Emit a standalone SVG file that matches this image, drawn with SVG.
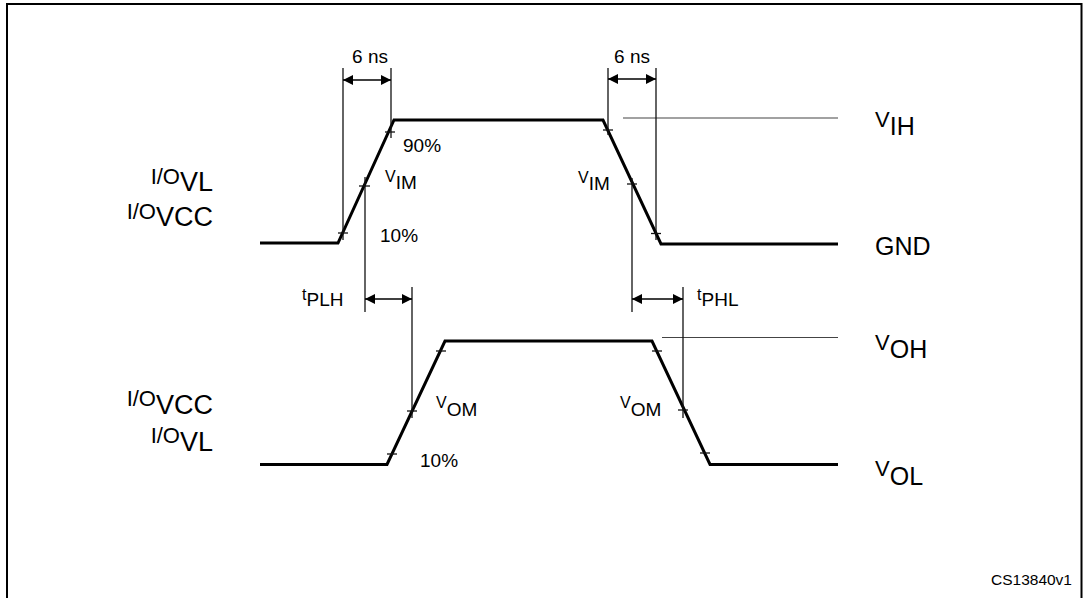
<svg xmlns="http://www.w3.org/2000/svg" width="1083" height="598" viewBox="0 0 1083 598">
<style>
text{font-family:"Liberation Sans",Arial,Helvetica,sans-serif;fill:#000}
.wave{fill:none;stroke:#000;stroke-width:3;stroke-linejoin:miter}
.thin{fill:none;stroke:#111;stroke-width:1.3}
.ref{fill:none;stroke:#444;stroke-width:1.2}
.dim{fill:none;stroke:#000;stroke-width:1.4;marker-start:url(#ah);marker-end:url(#ah)}
.t19{font-size:19px}
.sm{font-size:16px}
.sub{font-size:19px}
.big{font-size:25px}
.bigv{font-size:22px}
.lio{font-size:22px}
.lsub{font-size:27px}
</style>
<defs>
<marker id="ah" viewBox="0 0 10 10" refX="10" refY="5" markerWidth="10" markerHeight="10" markerUnits="userSpaceOnUse" orient="auto-start-reverse">
<path d="M0,0 L10,5 L0,10 z" fill="#000"/>
</marker>
</defs>
<rect x="7" y="4" width="1074.5" height="610" fill="none" stroke="#000" stroke-width="2"/>

<g id="input-wave">
<polyline class="wave" points="260,243 338,243 394,120 603,120 661,244 838,244"/>
<line class="ref" x1="623" y1="118" x2="838" y2="118"/>
</g>
<g id="output-wave">
<polyline class="wave" points="260,464.5 387,464.5 445,341 652,341 710,464.5 838,464.5"/>
<line class="ref" x1="662" y1="337.5" x2="838" y2="337.5"/>
</g>

<g id="connectors">
<line class="thin" x1="343" y1="68" x2="343" y2="240"/>
<line class="thin" x1="338" y1="233" x2="348" y2="233"/>
<line class="thin" x1="391" y1="68" x2="391" y2="138"/>
<line class="thin" x1="385" y1="132" x2="395" y2="132"/>
<line class="thin" x1="365" y1="177" x2="365" y2="312"/>
<line class="thin" x1="359" y1="186" x2="370" y2="186"/>
<line class="dim" x1="343" y1="80" x2="391" y2="80"/>
<line class="thin" x1="608" y1="68" x2="608" y2="135"/>
<line class="thin" x1="603" y1="130" x2="613" y2="130"/>
<line class="thin" x1="656" y1="68" x2="656" y2="240"/>
<line class="thin" x1="651" y1="233.5" x2="661" y2="233.5"/>
<line class="thin" x1="632" y1="178" x2="632" y2="312"/>
<line class="thin" x1="627" y1="184" x2="637" y2="184"/>
<line class="dim" x1="608" y1="79" x2="656" y2="79"/>
<line class="thin" x1="387" y1="454" x2="397" y2="454"/>
<line class="thin" x1="436" y1="351" x2="446" y2="351"/>
<line class="thin" x1="412" y1="287" x2="412" y2="418"/>
<line class="thin" x1="407" y1="411" x2="417" y2="411"/>
<line class="dim" x1="365" y1="299" x2="412" y2="299"/>
<line class="thin" x1="652" y1="351" x2="662" y2="351"/>
<line class="thin" x1="700" y1="453" x2="710" y2="453"/>
<line class="thin" x1="683" y1="287" x2="683" y2="418"/>
<line class="thin" x1="678" y1="410" x2="688" y2="410"/>
<line class="dim" x1="632" y1="299" x2="683" y2="299"/>
</g>

<g id="labels-input">
<text class="t19" x="370" y="63" text-anchor="middle">6 ns</text>
<text class="t19" x="632" y="63" text-anchor="middle">6 ns</text>
<text class="t19" x="403" y="152">90%</text>
<text class="t19" x="380" y="242">10%</text>
<text x="385" y="182"><tspan class="sm">V</tspan><tspan class="sub" dy="6.5">IM</tspan></text>
<text x="578" y="183"><tspan class="sm">V</tspan><tspan class="sub" dy="6.5">IM</tspan></text>
</g>
<g id="labels-timing">
<text x="302" y="300"><tspan class="sm">t</tspan><tspan class="sub" x="306.5" dy="6">PLH</tspan></text>
<text x="697" y="300"><tspan class="sm">t</tspan><tspan class="sub" x="701.5" dy="6">PHL</tspan></text>
</g>
<g id="labels-output">
<text x="436" y="408"><tspan class="sm">V</tspan><tspan class="sub" dy="8">OM</tspan></text>
<text x="620" y="408"><tspan class="sm">V</tspan><tspan class="sub" dy="8">OM</tspan></text>
<text class="t19" x="420" y="467">10%</text>
</g>
<g id="labels-right">
<text x="875" y="127"><tspan class="bigv">V</tspan><tspan class="big" dy="8">IH</tspan></text>
<text class="big" x="875" y="255">GND</text>
<text x="875" y="350"><tspan class="bigv">V</tspan><tspan class="big" dy="8">OH</tspan></text>
<text x="875" y="476"><tspan class="bigv">V</tspan><tspan class="big" dy="9">OL</tspan></text>
</g>
<g id="labels-left">
<text x="213" y="184" text-anchor="end"><tspan class="lio">I/O</tspan><tspan class="lsub" dy="7">VL</tspan></text>
<text x="213" y="219" text-anchor="end"><tspan class="lio">I/O</tspan><tspan class="lsub" dy="7">VCC</tspan></text>
<text x="213" y="406" text-anchor="end"><tspan class="lio">I/O</tspan><tspan class="lsub" dy="8">VCC</tspan></text>
<text x="213" y="443" text-anchor="end"><tspan class="lio">I/O</tspan><tspan class="lsub" dy="8">VL</tspan></text>
</g>
<text x="1072" y="585" text-anchor="end" font-size="15.5">CS13840v1</text>
</svg>
